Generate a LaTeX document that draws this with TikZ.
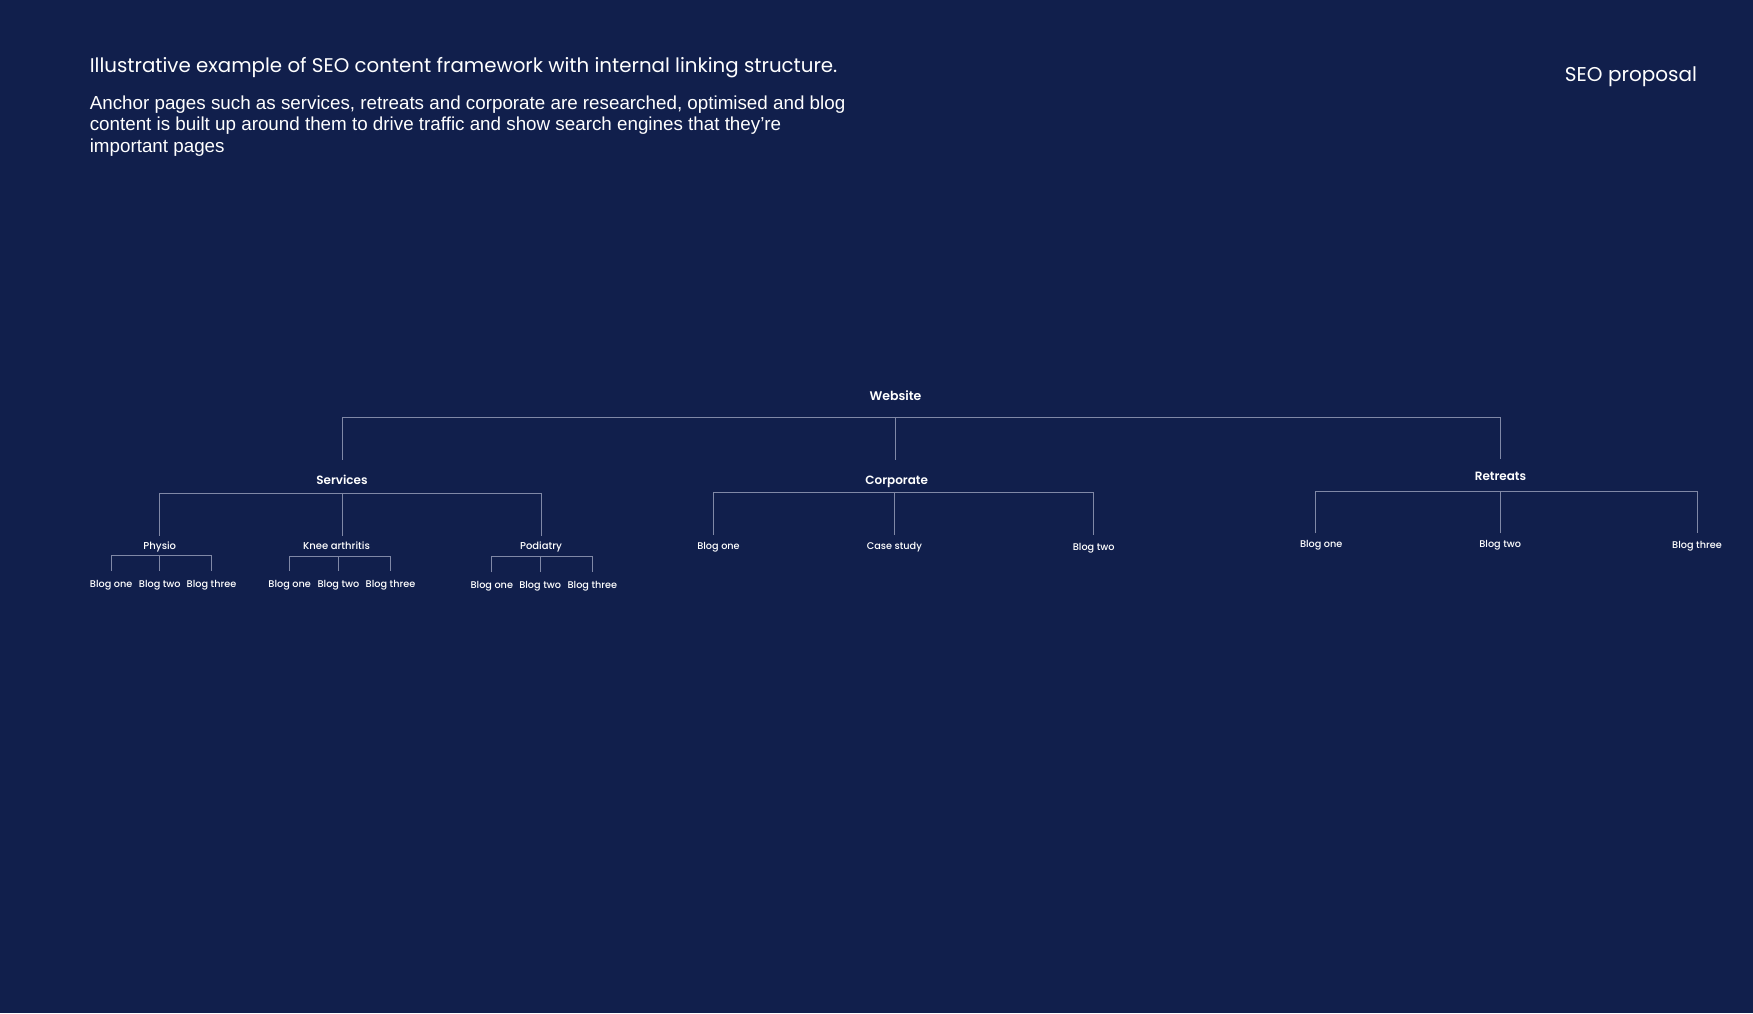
\documentclass[tikz,border=0pt]{standalone}
\usepackage{fontspec}
\setmainfont{Poppins}
\newfontfamily\leadfont{Liberation Sans}
\newfontfamily\popmed{Poppins Medium}
\newfontfamily\popsemi{Poppins SemiBold}
\definecolor{navy}{RGB}{17,31,76}
\definecolor{linkgrey}{RGB}{128,136,166}

\begin{document}
\begin{tikzpicture}[x=1pt,y=1pt,inner sep=0pt,outer sep=0pt,text=white,
lbl/.style={text height=0.7em,text depth=0pt},
hub/.style={lbl,text height=0.85em,font=\popsemi\fontsize{12.5}{15}\selectfont},
anchorpage/.style={lbl,text height=0.85em,font=\popsemi\fontsize{12}{14}\selectfont},
subpage/.style={lbl,font=\popmed\fontsize{10}{12}\selectfont},
blog/.style={lbl,font=\popmed\fontsize{9.7}{12}\selectfont},
link/.style={draw=linkgrey,line width=0.8pt}]
\useasboundingbox[fill=navy] (0,0) rectangle (1753,-1013);

% heading
\node[anchor=base west,font=\fontsize{19.8}{24}\selectfont] (title) at (89.8,-72.5)
  {Illustrative example of SEO content framework with internal linking structure.};
\node[anchor=north west,align=left,font=\leadfont\fontsize{18.8}{21.8}\selectfont] (lead) at (89.8,-95.5)
  {Anchor pages such as services, retreats and corporate are researched, optimised and blog\\
   content is built up around them to drive traffic and show search engines that they’re\\
   important pages};
\node[anchor=base east,font=\fontsize{20}{24}\selectfont] (tag) at (1697,-81.5) {SEO proposal};

% site and anchor pages
\node[hub] (site) at (895.5,-396) {Website};
\node[anchorpage] (svc) at (342,-480.7) {Services};
\node[anchorpage] (corp) at (896.7,-479.8) {Corporate};
\node[anchorpage] (ret) at (1500.5,-476.3) {Retreats};

% services
\node[subpage] (phys) at (159.8,-545.6) {Physio};
\node[subpage] (knee) at (336.5,-545.6) {Knee arthritis};
\node[subpage] (podi) at (541,-545.6) {Podiatry};
\node[blog] (physA) at (111.2,-583.6) {Blog one};
\node[blog] (physB) at (159.8,-583.6) {Blog two};
\node[blog] (physC) at (211.5,-583.6) {Blog three};
\node[blog] (kneeA) at (289.7,-583.6) {Blog one};
\node[blog] (kneeB) at (338.5,-583.6) {Blog two};
\node[blog] (kneeC) at (390.5,-583.6) {Blog three};
\node[blog] (podiA) at (491.8,-584.7) {Blog one};
\node[blog] (podiB) at (540.2,-584.7) {Blog two};
\node[blog] (podiC) at (592.4,-584.7) {Blog three};

% corporate and retreats
\node[blog] (corpA) at (718.5,-545.5) {Blog one};
\node[blog] (corpB) at (894.4,-545.5) {Case study};
\node[blog] (corpC) at (1093.7,-546.5) {Blog two};
\node[blog] (retA) at (1321.2,-544.3) {Blog one};
\node[blog] (retB) at (1500.2,-544.3) {Blog two};
\node[blog] (retC) at (1697,-545) {Blog three};

% links
\draw[link] ([yshift=21]svc.center) |- ([yshift=-21]site.center) -| ([yshift=17]ret.center);
\draw[link] ([yshift=-21]site.center) -- ++(0,-42.5);

\draw[link] ([yshift=10]phys.center) |- ([yshift=-12.3]svc.center) -| ([yshift=10]podi.center);
\draw[link] ([yshift=-12.3]svc.center) -- ++(0,-42.5);
\draw[link] ([xshift=-5.2,yshift=10.5]corpA.center) |- ([yshift=-12.2]corp.center) -| ([yshift=11.5]corpC.center);
\draw[link] ([yshift=10.5]corpB.center) -- ++(0,43);
\draw[link] ([xshift=-5.5,yshift=11]retA.center) |- ([yshift=-14.7]ret.center) -| ([yshift=11.7]retC.center);
\draw[link] ([yshift=11]retB.center) -- ++(0,42.3);

\draw[link] ([yshift=12.6]physA.center) |- ([yshift=-10]phys.center) -| ([yshift=12.6]physC.center);
\draw[link] ([yshift=12.6]physB.center) -- ++(0,15.4);
\draw[link] ([yshift=12.6]kneeA.center) |- ([xshift=2,yshift=-10.8]knee.center) -| ([yshift=12.6]kneeC.center);
\draw[link] ([yshift=12.6]kneeB.center) -- ++(0,15);
\draw[link] ([yshift=12.3]podiA.center) |- ([yshift=-11]podi.center) -| ([yshift=12.3]podiC.center);
\draw[link] ([yshift=12.3]podiB.center) -- ++(0,15.6);
\end{tikzpicture}
\end{document}
